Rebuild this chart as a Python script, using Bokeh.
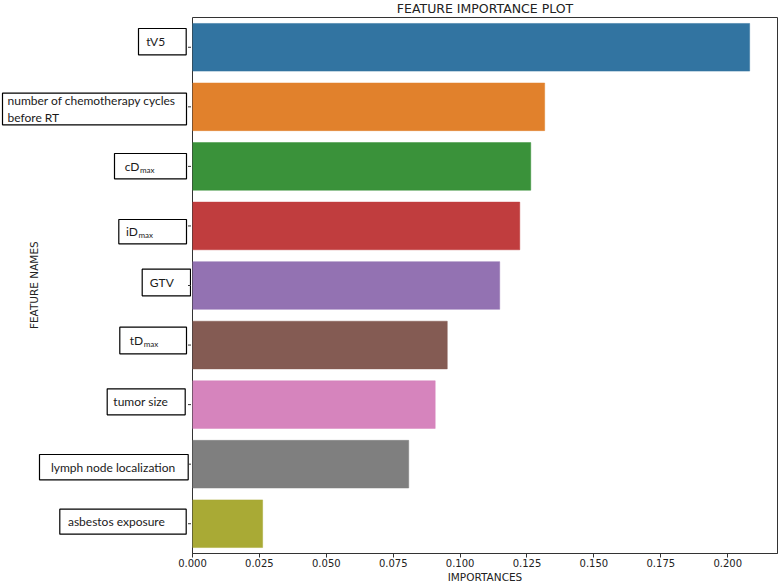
from bokeh.plotting import figure
from bokeh.layouts import row, column
from bokeh.models import Range1d, FixedTicker, NumeralTickFormatter
from bokeh.core.properties import value
from bokeh.embed import file_html
from bokeh.resources import INLINE
import math

# ---------------- data ----------------
features = ["tV5", "number of chemotherapy cycles\nbefore RT", "cD", "iD", "GTV",
            "tD", "tumor size", "lymph node localization", "asbestos exposure"]
subscripts = ["", "", "max", "max", "", "max", "", "", ""]
importances = [0.2082, 0.1316, 0.1264, 0.1223, 0.1148, 0.0952, 0.0907, 0.0808, 0.0262]
colors = ["#3274a1", "#e1812c", "#3a923a", "#c03d3e", "#9372b2",
          "#845b53", "#d684bd", "#7f7f7f", "#a9aa35"]
x_ticks = [0.0, 0.025, 0.05, 0.075, 0.1, 0.125, 0.15, 0.175, 0.2]
title_text = "FEATURE IMPORTANCE PLOT"
x_title = "IMPORTANCES"
y_title = "FEATURE NAMES"

positions = list(range(len(features)))

# ---------------- layout constants ----------------
TITLE_H = 16
TOP, BOTTOM = 1, 30
FRAME_H = 536
FRAME_W = 585
LEFT_W = 191
MAIN_LEFT = 16       # left border of the bar figure (room for the "0.000" label)
OVERLAP = 15         # the bar figure is pulled left over the label panel by this much
TOTAL_W = LEFT_W + MAIN_LEFT - OVERLAP + FRAME_W + 2
y_range = Range1d(len(features) - 0.5, -0.5)


def blank(fig):
    fig.xgrid.visible = False
    fig.ygrid.visible = False
    fig.outline_line_color = None
    fig.background_fill_color = "white"
    fig.border_fill_color = "white"


# ---------------- title strip ----------------
tf = figure(output_backend="svg", toolbar_location=None,
            frame_width=TOTAL_W, frame_height=TITLE_H,
            min_border_left=0, min_border_right=0, min_border_top=0, min_border_bottom=0,
            x_range=Range1d(0, TOTAL_W), y_range=Range1d(TITLE_H, 0),
            x_axis_type=None, y_axis_type=None)
blank(tf)
tf.text(x=[LEFT_W + 1 + FRAME_W / 2], y=[8], text=[title_text],
        text_align="center", text_baseline="middle",
        text_font=value("DejaVu Sans"), text_font_size="12.5px", text_color="#222222")

# ---------------- main bar figure ----------------
p = figure(
    output_backend="svg", toolbar_location=None,
    frame_width=FRAME_W, frame_height=FRAME_H,
    min_border_left=MAIN_LEFT, min_border_right=2, min_border_top=TOP, min_border_bottom=BOTTOM,
    x_range=Range1d(0, max(importances) * 1.05),
    y_range=y_range, y_axis_type=None,
)
p.styles = {"margin-left": f"-{OVERLAP}px"}
p.hbar(y=positions, right=importances, height=0.8, left=0,
       fill_color=colors, line_color=colors, line_width=0.5)
p.xgrid.visible = False
p.ygrid.visible = False
p.outline_line_color = "#333333"
p.outline_line_width = 1
p.background_fill_color = "white"
p.border_fill_alpha = 0

xa = p.xaxis[0]
xa.ticker = FixedTicker(ticks=x_ticks)
xa.formatter = NumeralTickFormatter(format="0.000")
xa.minor_tick_line_color = None
xa.major_tick_in = 0
xa.major_tick_out = 4
xa.axis_line_color = "#333333"
xa.major_tick_line_color = "#333333"
xa.major_label_text_font = "DejaVu Sans"
xa.major_label_text_font_size = "10px"
xa.major_label_text_color = "#222222"
xa.major_label_standoff = 1
xa.axis_label = x_title
xa.axis_label_text_font = "DejaVu Sans"
xa.axis_label_text_font_size = "10.5px"
xa.axis_label_text_font_style = "normal"
xa.axis_label_text_color = "#222222"
xa.axis_label_standoff = 1

# ---------------- left panel: y ticks, boxed feature names, y title ----------------
lf = figure(
    output_backend="svg", toolbar_location=None,
    frame_width=LEFT_W, frame_height=FRAME_H,
    min_border_left=0, min_border_right=0, min_border_top=TOP, min_border_bottom=BOTTOM,
    x_range=Range1d(0, LEFT_W), y_range=y_range,
    x_axis_type=None, y_axis_type=None,
)
blank(lf)

FT = TITLE_H + TOP  # picture y of the frame top
PXU = FRAME_H / len(features)


def ydata(ref_y):
    return (ref_y - FT) / PXU - 0.5


# box/text placement in picture pixels
text_l = [147.3, 7.0, 128.0, 127.3, 152.7, 128.3, 112.7, 51.0, 68.3]
text_r = [164.7, 174.7, 139.0, 137.5, 173.3, 142.7, 167.7, 174.7, 164.3]
box_l = [138.0, 2.0, 114.0, 118.3, 141.7, 119.3, 106.7, 39.0, 59.3]
box_r = [185.7, 186.0, 186.0, 186.0, 190.0, 186.0, 184.7, 187.7, 185.7]
box_t = [28.0, 92.7, 153.0, 219.0, 268.7, 326.7, 388.3, 454.0, 508.7]
box_b = [54.3, 124.3, 178.3, 243.3, 295.3, 353.3, 414.3, 479.3, 533.7]

lf.quad(left=box_l, right=box_r,
        top=[ydata(v) for v in box_t], bottom=[ydata(v) for v in box_b],
        fill_color="white", line_color="black", line_width=1.2)

# y-axis tick marks
lf.segment(x0=[LEFT_W - 3.5] * len(positions), x1=[LEFT_W + 1] * len(positions),
           y0=positions, y1=positions, line_color="#333333", line_width=1)

centers = [ydata((t + b) / 2) for t, b in zip(box_t, box_b)]
for i in positions:
    if "\n" in features[i]:
        lf.text(x=[text_l[i]], y=[centers[i]], text=[features[i]],
                text_align="left", text_baseline="middle",
                text_font=value("Lato"), text_font_size="12px",
                text_color="#1a1a1a", text_line_height=1.1)
    else:
        lf.text(x=[text_r[i]], y=[centers[i]], text=[features[i]],
                text_align="right", text_baseline="middle",
                text_font=value("Lato"), text_font_size="12px",
                text_color="#1a1a1a")
    if subscripts[i]:
        lf.text(x=[text_r[i] + 0.5], y=[centers[i] + 3.5 / PXU], text=[subscripts[i]],
                text_align="left", text_baseline="middle",
                text_font=value("Lato"), text_font_size="8px", text_color="#1a1a1a")

lf.text(x=[33.8], y=[ydata(284.7)], text=[y_title], angle=math.pi / 2,
        text_align="center", text_baseline="middle",
        text_font=value("DejaVu Sans"), text_font_size="10.5px", text_color="#222222")

layout = column(tf, row(lf, p, spacing=0), spacing=0)
open("out.html", "w").write(file_html(layout, INLINE))
